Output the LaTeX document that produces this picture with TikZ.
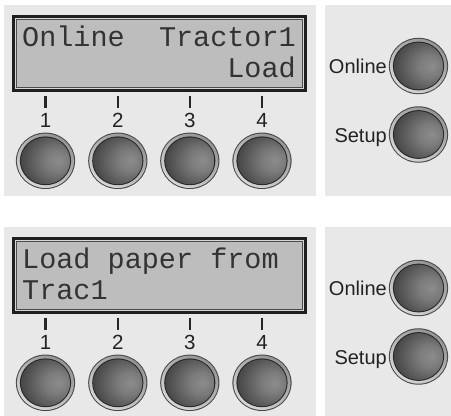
\documentclass[tikz,border=0pt]{standalone}
\usepackage{fontspec}
\setmainfont{Liberation Sans}
\newfontfamily\lcdfont{Liberation Mono}
\definecolor{panelgray}{HTML}{E8E8E8}
\definecolor{lcdgray}{HTML}{BDBDBD}
\definecolor{lcdlight}{HTML}{D6D6D6}
\definecolor{inkc}{HTML}{222222}
\pgfdeclareradialshading{btnshade}{\pgfpoint{14bp}{0bp}}{%
  color(0bp)=(black!45); color(12bp)=(black!52); color(30bp)=(black!70);
  color(46bp)=(black!84); color(70bp)=(black!88)}
\tikzset{
  panelbox/.style={fill=panelgray, draw=none},
  lcdtext/.style={font=\lcdfont\fontsize{28.5}{30}\selectfont, text=black!80, inner sep=0pt, anchor=base west},
  numlabel/.style={font=\fontsize{20.5}{20}\selectfont, text=inkc, inner sep=0pt, anchor=base},
  keylabel/.style={font=\fontsize{20}{20}\selectfont, text=inkc, inner sep=0pt, anchor=base east},
  tickmark/.style={draw=black!85, line width=2.2pt},
}
\newcommand\mybutton[3]{% name, x, y
  \fill[black!72] (#2,#3) ellipse [x radius=29.6, y radius=28.2];
  \shade[top color=black!42, bottom color=black!16, shading angle=-35] (#2,#3) ellipse [x radius=28.6, y radius=27.2];
  \fill[black!85] (#2,#3) ellipse [x radius=25.6, y radius=24.4];
  \shade[shading=btnshade] (#2,#3) ellipse [x radius=24.6, y radius=23.4];
  \coordinate (#1) at (#2,#3);
}
\newcommand\mypanel[2]{% prefix, y offset
  \begin{scope}[yshift=-#2pt]
  \fill[panelbox] (4,5) rectangle (316,196);
  \fill[panelbox] (325,5) rectangle (451,196);
  \fill[black!88] (12,15) rectangle (307,92);
  \fill[lcdlight] (14.6,17.6) rectangle (304.4,89.4);
  \fill[black!70] (15.6,18.6) rectangle (303.4,88.4);
  \fill[lcdgray] (16.6,19.6) rectangle (302.4,87.4);
  \foreach \i/\x in {1/45.5,2/117.8,3/189.8,4/262} {
    \draw[tickmark] (\x,95.5) -- (\x,107.5);
    \node[numlabel] (#1num\i) at (\x,127.7) {\i};
    \mybutton{#1btn\i}{\x}{160.8}
  }
  \mybutton{#1online}{418.5}{66}
  \mybutton{#1setup}{418.5}{134.5}
  \node[keylabel] (#1onlinelabel) at (387,73.5) {Online};
  \node[keylabel] (#1setuplabel) at (387,142) {Setup};
  \end{scope}
}
\begin{document}
\begin{tikzpicture}[x=1pt,y=-1pt]
\useasboundingbox (0,0) rectangle (451,416);
\fill[white] (0,0) rectangle (451,416);
\begin{scope}
\clip (0,0) rectangle (451,416);
\mypanel{a}{0}
\mypanel{b}{222}
\end{scope}
% top display texts
\node[lcdtext] (aline1a) at (22,46) {Online};
\node[lcdtext] (aline1b) at (158.8,46) {Tractor1};
\node[lcdtext] (aline2) at (227.2,77) {Load};
% bottom display texts
\node[lcdtext] (bline1) at (22,268) {Load paper from};
\node[lcdtext] (bline2) at (22,299) {Trac1};
\end{tikzpicture}
\end{document}
